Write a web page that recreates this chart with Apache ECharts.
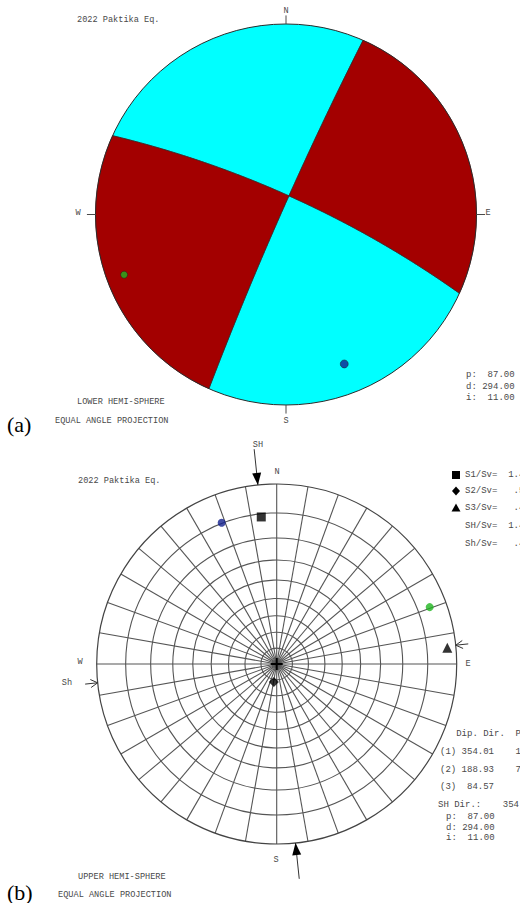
<!DOCTYPE html>
<html>
<head>
<meta charset="utf-8">
<title>2022 Paktika Eq.</title>
<script src="https://cdn.jsdelivr.net/npm/echarts@6.0.0/dist/echarts.min.js"></script>
<style>
html,body{margin:0;padding:0;background:#fff;}
#chart{width:520px;height:903px;}
</style>
</head>
<body>
<div id="chart"></div>
<script>
// ---------- data ----------
// P and T axes of the focal mechanism (lower hemisphere trend / plunge, degrees)
const axisNames = ['P', 'T'];
const axisTrend = [158.7, 249.6];
const axisPlunge = [9.8, 5.6];
const axisColors = ['#13208f', '#1fb51f'];

// principal stress axes: dip direction / plunge (degrees)
const stressLabels = ['(1)', '(2)', '(3)'];
const stressDipDir = [354.01, 188.93, 84.57];
const stressPlunge = [11.2, 78.4, 2.8];
const stressSymbols = ['rect', 'diamond', 'triangle'];

// stress ratios
const ratioNames = ['S1/Sv=', 'S2/Sv=', 'S3/Sv=', 'SH/Sv=', 'Sh/Sv='];
const ratioValues = [1.4, 0.5, 0.4, 1.4, 0.4];

// maximum horizontal stress direction (degrees)
const shMaxDir = 354.01;

// fault parameters
const paramNames = ['p:', 'd:', 'i:'];
const paramValues = [87, 294, 11];

// stereonet grid: small circles of equal plunge, great circles every 10 degrees
const netPlunges = [10, 20, 30, 40, 50, 60, 70, 80];
const netAzimuthStep = 10;

// ---------- colours / fonts ----------
const RED = '#a30000';
const CYAN = '#00ffff';
const INK = '#4a4a4a';
const GRID_INK = '#555555';
const MONO = '"Liberation Mono", "DejaVu Sans Mono", monospace';

// ---------- vector helpers (north, east, down) ----------
const D2R = Math.PI / 180;
const vec = (trend, plunge) => {
  const t = trend * D2R, p = plunge * D2R;
  return [Math.cos(p) * Math.cos(t), Math.cos(p) * Math.sin(t), Math.sin(p)];
};
const add = (a, b) => [a[0] + b[0], a[1] + b[1], a[2] + b[2]];
const sub = (a, b) => [a[0] - b[0], a[1] - b[1], a[2] - b[2]];
const mul = (a, k) => [a[0] * k, a[1] * k, a[2] * k];
const dot = (a, b) => a[0] * b[0] + a[1] * b[1] + a[2] * b[2];
const cross = (a, b) => [a[1] * b[2] - a[2] * b[1], a[2] * b[0] - a[0] * b[2], a[0] * b[1] - a[1] * b[0]];
const unit = a => mul(a, 1 / Math.hypot(a[0], a[1], a[2]));
const lower = v => (v[2] < 0 ? mul(v, -1) : v);

// equal-angle (stereographic) projection onto a unit primitive, x = east, y = north
// (points on a lower-hemisphere arc; tiny negative z from rounding is clamped, not flipped)
const projArc = v => { const z = Math.max(v[2], 0); return [v[1] / (1 + z), v[0] / (1 + z)]; };
const netPoint = (az, pl) => {
  const r = Math.tan((90 - pl) / 2 * D2R);
  return [r * Math.sin(az * D2R), r * Math.cos(az * D2R)];
};

// ---------- focal mechanism geometry ----------
const P = vec(axisTrend[0], axisPlunge[0]);
const T = vec(axisTrend[1], axisPlunge[1]);
const planes = [unit(add(T, P)), unit(sub(T, P))].map(n => {
  const s = unit([n[1], -n[0], 0]);
  let d = cross(n, s);
  if (d[2] < 0) d = mul(d, -1);
  return { n, s, d };
});
const Baxis = lower(unit(cross(P, T)));
const arcPoint = (pl, th) => add(mul(pl.s, Math.cos(th)), mul(pl.d, Math.sin(th)));

// half of a nodal plane from the null axis to one end on the primitive
function halfArc(pl, endTheta) {
  const thB = Math.atan2(dot(Baxis, pl.d), dot(Baxis, pl.s));
  const pts = [];
  const N = 120;
  for (let i = 0; i <= N; i++) {
    const th = i === N ? endTheta : thB + (endTheta - thB) * i / N;
    pts.push(projArc(arcPoint(pl, th)));
  }
  return pts;
}
// arc of the primitive between two horizontal directions (shorter way)
function rimArc(e1, e2) {
  const a1 = Math.atan2(e1[1], e1[0]) / D2R;
  const a2 = Math.atan2(e2[1], e2[0]) / D2R;
  const delta = ((a2 - a1 + 540) % 360) - 180;
  const pts = [];
  const N = Math.max(2, Math.ceil(Math.abs(delta)));
  for (let i = 0; i <= N; i++) {
    const a = (a1 + delta * i / N) * D2R;
    pts.push([Math.sin(a), Math.cos(a)]);
  }
  return pts;
}
// the four quadrants; compressional ones are those holding the T axis
const quadrants = [];
[0, Math.PI].forEach(end1 => {
  [0, Math.PI].forEach(end2 => {
    const e1 = end1 === 0 ? planes[0].s : mul(planes[0].s, -1);
    const e2 = end2 === 0 ? planes[1].s : mul(planes[1].s, -1);
    const mid = unit(add(e1, e2));
    const compressional = dot(planes[0].n, mid) * dot(planes[1].n, mid) > 0;
    const pts = halfArc(planes[0], end1)
      .concat(rimArc(e1, e2))
      .concat(halfArc(planes[1], end2).reverse());
    quadrants.push({ pts, compressional });
  });
});
const nodalLines = [];
planes.forEach(pl => { nodalLines.push(halfArc(pl, 0), halfArc(pl, Math.PI)); });

// ---------- layout ----------
const NET_A = { cx: 286, cy: 214.5, r: 190.5 };
const NET_B = { cx: 276.7, cy: 664, r: 180 };
const gridOf = n => ({ left: n.cx - n.r, top: n.cy - n.r, width: 2 * n.r, height: 2 * n.r });

// beach ball (lower hemisphere)
function renderBeachBall(params, api) {
  const c = api.coord([0, 0]);
  const R = api.size([1, 1])[0];
  const toPx = pts => pts.map(p => api.coord(p));
  const children = [
    { type: 'circle', shape: { cx: c[0], cy: c[1], r: R }, style: { fill: CYAN } }
  ];
  quadrants.filter(q => q.compressional).forEach(q => {
    children.push({ type: 'polygon', shape: { points: toPx(q.pts) }, style: { fill: RED, stroke: RED, lineWidth: 0.5 } });
  });
  nodalLines.forEach(l => {
    children.push({ type: 'polyline', shape: { points: toPx(l) }, style: { fill: 'none', stroke: '#2b2b2b', lineWidth: 0.8 } });
  });
  children.push({ type: 'circle', shape: { cx: c[0], cy: c[1], r: R }, style: { fill: 'none', stroke: '#2b2b2b', lineWidth: 1 } });
  // compass ticks
  [0, 90, 180, 270].forEach(az => {
    const a = api.coord([Math.sin(az * D2R), Math.cos(az * D2R)]);
    const b = api.coord([1.045 * Math.sin(az * D2R), 1.045 * Math.cos(az * D2R)]);
    children.push({ type: 'line', shape: { x1: a[0], y1: a[1], x2: b[0], y2: b[1] }, style: { stroke: INK, lineWidth: 1 } });
  });
  return { type: 'group', children };
}

// arrow helper in pixel space
function arrow(api, az, outer, filled) {
  const s = Math.sin(az * D2R), co = Math.cos(az * D2R);
  const tip = api.coord([s, co]);
  const tail = api.coord([outer * s, outer * co]);
  const dx = tip[0] - tail[0], dy = tip[1] - tail[1];
  const len = Math.hypot(dx, dy);
  const ux = dx / len, uy = dy / len;
  const out = [{ type: 'line', shape: { x1: tail[0], y1: tail[1], x2: tip[0], y2: tip[1] }, style: { stroke: '#333', lineWidth: 1 } }];
  if (filled) {
    const hl = 12, hw = 4.5;
    const bx = tip[0] - ux * hl, by = tip[1] - uy * hl;
    out.push({ type: 'polygon', shape: { points: [tip, [bx - uy * hw, by + ux * hw], [bx + uy * hw, by - ux * hw]] }, style: { fill: '#000' } });
  } else {
    const hl = 7, hw = 4;
    const bx = tip[0] - ux * hl, by = tip[1] - uy * hl;
    out.push({ type: 'polyline', shape: { points: [[bx - uy * hw, by + ux * hw], tip, [bx + uy * hw, by - ux * hw]] }, style: { fill: 'none', stroke: '#333', lineWidth: 1 } });
  }
  return out;
}

// polar stereonet (upper hemisphere)
function renderNet(params, api) {
  const c = api.coord([0, 0]);
  const R = api.size([1, 1])[0];
  const children = [];
  const gridStyle = { fill: 'none', stroke: GRID_INK, lineWidth: 1.1 };
  for (let az = 0; az < 360; az += netAzimuthStep) {
    const e = api.coord([Math.sin(az * D2R), Math.cos(az * D2R)]);
    children.push({ type: 'line', shape: { x1: c[0], y1: c[1], x2: e[0], y2: e[1] }, style: gridStyle });
  }
  netPlunges.forEach(pl => {
    const r = Math.tan((90 - pl) / 2 * D2R);
    children.push({ type: 'circle', shape: { cx: c[0], cy: c[1], r: r * R }, style: gridStyle });
  });
  children.push({ type: 'circle', shape: { cx: c[0], cy: c[1], r: R }, style: { fill: 'none', stroke: '#444', lineWidth: 1.2 } });
  // centre mark
  children.push({ type: 'line', shape: { x1: c[0] - 6, y1: c[1], x2: c[0] + 6, y2: c[1] }, style: { stroke: '#000', lineWidth: 2 } });
  children.push({ type: 'line', shape: { x1: c[0], y1: c[1] - 6, x2: c[0], y2: c[1] + 6 }, style: { stroke: '#000', lineWidth: 2 } });
  // horizontal stress arrows
  [shMaxDir, shMaxDir + 180].forEach(az => { children.push(...arrow(api, az, 1.2, true)); });
  [shMaxDir + 90, shMaxDir + 270].forEach(az => { children.push(...arrow(api, az, 1.07, false)); });
  return { type: 'group', children };
}

// ---------- text ----------
const texts = [];
function txt(text, x, y, opt) {
  opt = opt || {};
  const align = opt.align || 'left';
  texts.push({
    type: 'text', x, y, silent: true,
    style: {
      text, fill: opt.fill || INK,
      font: opt.font || ('9px ' + MONO),
      align, textAlign: align, verticalAlign: 'middle', textVerticalAlign: 'middle'
    }
  });
}
const small = '8.6px ' + MONO;
const panelFont = '22px "Liberation Serif", serif';
const ratioText = v => (v >= 1 ? v.toFixed(1) : v.toFixed(1).replace(/^0/, '')).padStart(3);
const paramText = i => paramNames[i] + paramValues[i].toFixed(2).padStart(7);

// panel (a)
txt('2022 Paktika Eq.', 77, 20, { font: small });
txt('N', 286, 10.5, { align: 'center', font: small });
txt('W', 78, 213, { align: 'center', font: small });
txt('E', 488, 213, { align: 'center', font: small });
txt('S', 286, 421, { align: 'center', font: small });
txt('LOWER HEMI-SPHERE', 77, 402, { font: small });
txt('EQUAL ANGLE PROJECTION', 55, 421, { font: small });
txt('(a)', 7, 424, { font: panelFont, fill: '#000' });
paramNames.forEach((n, i) => txt(paramText(i), 466, 375 + i * 11.5));

// panel (b)
txt('SH', 258, 445, { align: 'center', font: small });
txt('2022 Paktika Eq.', 78, 481, { font: small });
txt('N', 277, 472, { align: 'center', font: small });
txt('W', 80, 662, { align: 'center', font: small });
txt('E', 468, 664, { align: 'center', font: small });
txt('S', 276, 860, { align: 'center', font: small });
txt('Sh', 67, 683, { align: 'center', font: small });
const ratioY = [475, 491, 508, 526, 544];
ratioNames.forEach((n, i) => txt(n + '  ' + ratioText(ratioValues[i]), 465, ratioY[i]));
txt('   Dip. Dir.  Plunge', 440, 734);
stressLabels.forEach((l, i) => {
  txt(l + ' ' + stressDipDir[i].toFixed(2).padStart(6) + '    ' + stressPlunge[i].toFixed(2).padStart(5), 440, 752 + i * 17.6);
});
txt('SH Dir.:    ' + shMaxDir.toFixed(2), 438, 805);
paramNames.forEach((n, i) => txt(paramText(i), 446, 817 + i * 10.7));
txt('UPPER HEMI-SPHERE', 78, 877, { font: small });
txt('EQUAL ANGLE PROJECTION', 58, 895, { font: small });
txt('(b)', 7, 892, { font: panelFont, fill: '#000' });

// legend symbols for the stress axes
const legendX = 456;
texts.push({ type: 'rect', shape: { x: legendX - 4, y: ratioY[0] - 4, width: 8, height: 8 }, style: { fill: '#000' } });
texts.push({ type: 'polygon', shape: { points: [[legendX, ratioY[1] - 4.5], [legendX + 4, ratioY[1]], [legendX, ratioY[1] + 4.5], [legendX - 4, ratioY[1]]] }, style: { fill: '#000' } });
texts.push({ type: 'polygon', shape: { points: [[legendX, ratioY[2] - 4.5], [legendX + 4.5, ratioY[2] + 3.5], [legendX - 4.5, ratioY[2] + 3.5]] }, style: { fill: '#000' } });

// ---------- chart ----------
const chart = echarts.init(document.getElementById('chart'), null, { renderer: 'svg', width: 520, height: 903 });
const axisBase = { type: 'value', min: -1, max: 1, show: false };
chart.setOption({
  animation: false,
  backgroundColor: '#ffffff',
  grid: [gridOf(NET_A), gridOf(NET_B)],
  xAxis: [Object.assign({ gridIndex: 0 }, axisBase), Object.assign({ gridIndex: 1 }, axisBase)],
  yAxis: [Object.assign({ gridIndex: 0 }, axisBase), Object.assign({ gridIndex: 1 }, axisBase)],
  series: [
    { type: 'custom', name: 'beach ball', xAxisIndex: 0, yAxisIndex: 0, data: [[0, 0]], renderItem: renderBeachBall, silent: true, clip: false, z: 1 },
    {
      type: 'scatter', name: 'P/T lower', xAxisIndex: 0, yAxisIndex: 0, silent: true, z: 3,
      data: axisNames.map((n, i) => ({
        name: n, value: netPoint(axisTrend[i], axisPlunge[i]),
        symbolSize: i === 0 ? 8 : 7,
        itemStyle: { color: axisColors[i], borderColor: '#1a1a1a', borderWidth: 0.6 }
      }))
    },
    { type: 'custom', name: 'stereonet', xAxisIndex: 1, yAxisIndex: 1, data: [[0, 0]], renderItem: renderNet, silent: true, clip: false, z: 1 },
    {
      type: 'scatter', name: 'P/T upper', xAxisIndex: 1, yAxisIndex: 1, silent: true, z: 3,
      data: axisNames.map((n, i) => ({
        name: n, value: netPoint(axisTrend[i] + 180, axisPlunge[i]),
        symbolSize: 8,
        itemStyle: { color: axisColors[i] }
      }))
    },
    {
      type: 'scatter', name: 'stress axes', xAxisIndex: 1, yAxisIndex: 1, silent: true, z: 3,
      data: stressLabels.map((l, i) => ({
        name: l, value: netPoint(stressDipDir[i], stressPlunge[i]),
        symbol: stressSymbols[i], symbolSize: i === 0 ? 9 : 10,
        itemStyle: { color: '#000' }
      }))
    }
  ],
  graphic: texts
});
</script>
</body>
</html>
